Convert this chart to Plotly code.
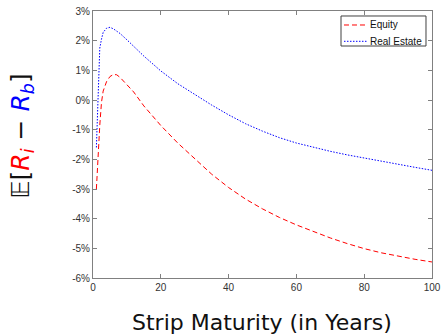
import plotly.graph_objects as go

maturity = [1, 1.5, 2, 2.5, 3, 4, 5, 6, 7, 8, 10, 12, 15, 18, 20, 25, 30, 35, 40,
            45, 50, 55, 60, 65, 70, 75, 80, 85, 90, 95, 100]
equity = [-3.0, -1.85, -0.85, -0.08, 0.30, 0.62, 0.79, 0.86, 0.85, 0.76, 0.52, 0.27,
          -0.20, -0.60, -0.86, -1.45, -1.98, -2.50, -2.95, -3.34, -3.67, -3.96,
          -4.21, -4.44, -4.65, -4.84, -5.01, -5.15, -5.27, -5.37, -5.46]
real_estate = [-1.6, 0.4, 1.75, 2.05, 2.28, 2.42, 2.45, 2.40, 2.33, 2.24, 2.03, 1.80,
               1.48, 1.18, 0.98, 0.55, 0.18, -0.17, -0.50, -0.80, -1.05, -1.27,
               -1.45, -1.60, -1.73, -1.85, -1.96, -2.07, -2.17, -2.27, -2.37]

y_ticks = [3, 2, 1, 0, -1, -2, -3, -4, -5, -6]
y_tick_labels = ["3%", "2%", "1%", "0%", "-1%", "-2%", "-3%", "-4%", "-5%", "-6%"]
x_ticks = [0, 20, 40, 60, 80, 100]

series = [("Equity", equity, "#ff0000", "5px,3px"),
          ("Real Estate", real_estate, "#0000ff", "1.5px,1.5px")]

fig = go.Figure()
for name, vals, color, dash in series:
    fig.add_trace(go.Scatter(x=maturity, y=vals, mode="lines", name=name,
                             line=dict(color=color, dash=dash, width=1)))

axis_common = dict(showline=True, linecolor="#808080", linewidth=1, mirror="ticks",
                   ticks="inside", ticklen=4, tickcolor="#808080", showgrid=False,
                   zeroline=False, automargin=False,
                   tickfont=dict(family="Liberation Sans", size=10, color="#333333"))

fig.update_layout(
    width=442, height=335,
    margin=dict(l=93, r=10, t=11, b=57),
    paper_bgcolor="white", plot_bgcolor="white",
    showlegend=False,
    xaxis=dict(range=[0, 100], tickvals=x_ticks, **axis_common),
    yaxis=dict(range=[-6, 3], tickvals=y_ticks, ticktext=y_tick_labels, **axis_common),
)

# x-axis title
fig.add_annotation(xref="paper", yref="paper", x=0.4985, y=-0.165,
                   text="Strip Maturity (in Years)", showarrow=False,
                   xanchor="center", yanchor="middle",
                   font=dict(family="DejaVu Sans", size=22, color="#111111"))

# legend box (drawn in paper coordinates)
fig.add_shape(type="rect", xref="paper", yref="paper", x0=0.7316, x1=0.9823,
              y0=0.8689, y1=0.9813, line=dict(color="#404040", width=1),
              fillcolor="white", layer="above")
legend_rows = [0.9476, 0.8865]
for (name, vals, color, dash), ry in zip(series, legend_rows):
    fig.add_shape(type="line", xref="paper", yref="paper", x0=0.7404, x1=0.8097,
                  y0=ry, y1=ry, line=dict(color=color, dash=dash, width=1), layer="above")
    fig.add_annotation(xref="paper", yref="paper", x=0.8112, y=ry, text=name,
                       showarrow=False, xanchor="left", yanchor="middle",
                       font=dict(family="Liberation Sans", size=10, color="#111111"))

fig.add_annotation(
    xref="paper", yref="paper", x=-0.209, y=0.53, textangle=-90, showarrow=False,
    text="𝔼[<span style='color:#ff0000'><i>R</i><sub><i>i</i></sub></span> − "
         "<span style='color:#0000ff'><i>R</i><sub><i>b</i></sub></span>]",
    font=dict(family="DejaVu Sans", size=25, color="#111111"),
    xanchor="center", yanchor="middle",
)

fig.write_html("out.html", config={"displayModeBar": False},
               post_script="document.body.style.margin='0';")
